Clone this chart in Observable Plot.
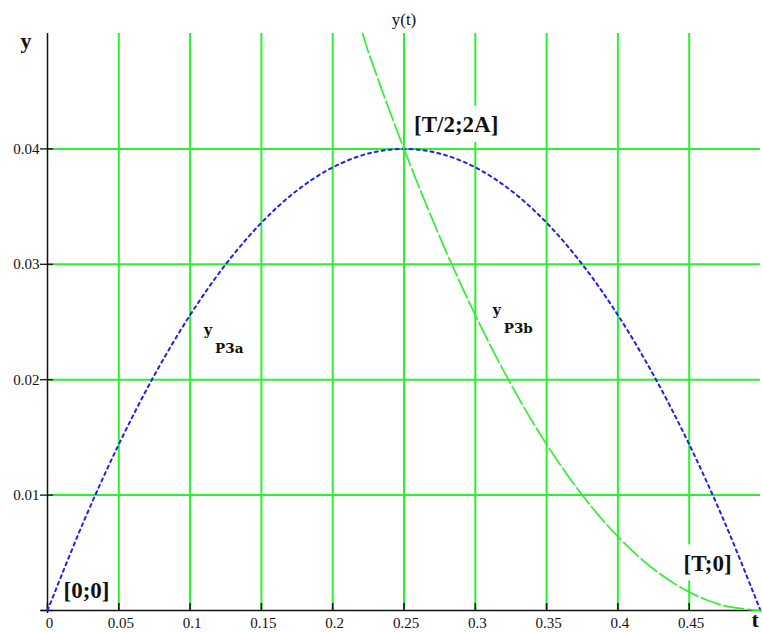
<!DOCTYPE html>
<html>
<head>
<meta charset="utf-8">
<script src="https://cdn.jsdelivr.net/npm/d3@7"></script>
<script src="https://cdn.jsdelivr.net/npm/@observablehq/plot@0.6"></script>
<style>
  body { margin: 0; background: #fff; }
  #chart svg { display: block; }
  #chart svg g[aria-label$="tick label"] { font-size: 15px; font-family: "Liberation Serif", "Times New Roman", serif; }
</style>
</head>
<body>
<div id="chart"></div>
<script>
// Displacement y(t) of the two parts of motion P3a and P3b
const tP3a = [0, 0.025, 0.05, 0.075, 0.1, 0.125, 0.15, 0.175, 0.2, 0.225, 0.25,
              0.275, 0.3, 0.325, 0.35, 0.375, 0.4, 0.425, 0.45, 0.475, 0.5];
const yP3a = [0, 0.0076, 0.0144, 0.0204, 0.0256, 0.03, 0.0336, 0.0364, 0.0384, 0.0396, 0.04,
              0.0396, 0.0384, 0.0364, 0.0336, 0.03, 0.0256, 0.0204, 0.0144, 0.0076, 0];

const tP3b = [0.221, 0.225, 0.25, 0.275, 0.3, 0.325, 0.35, 0.375, 0.4, 0.425, 0.45, 0.475, 0.5];
const yP3b = [0.05, 0.0484, 0.04, 0.0324, 0.0256, 0.0196, 0.0144, 0.01, 0.0064, 0.0036, 0.0016, 0.0004, 0];

const xTicks = [0, 0.05, 0.1, 0.15, 0.2, 0.25, 0.3, 0.35, 0.4, 0.45];
const xTickLabels = ["0", "0.05", "0.1", "0.15", "0.2", "0.25", "0.3", "0.35", "0.4", "0.45"];
const xGrid = [0.05, 0.1, 0.15, 0.2, 0.25, 0.3, 0.35, 0.4, 0.45];
const yTicks = [0, 0.01, 0.02, 0.03, 0.04];
const yTickLabels = ["", "0.01", "0.02", "0.03", "0.04"];
const yGrid = [0.01, 0.02, 0.03, 0.04];

const pointLabels = ["[0;0]", "[T/2;2A]", "[T;0]"];
const pointT = [0, 0.25, 0.5];
const pointY = [0, 0.04, 0];

const curveSubscripts = ["P3a", "P3b"];

const seriesA = tP3a.map((t, i) => ({t, y: yP3a[i]}));
const seriesB = tP3b.map((t, i) => ({t, y: yP3b[i]}));
const points = pointLabels.map((label, i) => ({label, t: pointT[i], y: pointY[i]}));

const GREEN = "#2ef02e";
const BLUE = "#2020e6";
const SERIF = "Liberation Serif, Times New Roman, serif";
const SLAB = "DejaVu Serif, serif";

const fmtX = d => xTickLabels[xTicks.indexOf(d)] ?? "";
const fmtY = d => yTickLabels[yTicks.indexOf(d)] ?? "";

const pointLabel = (i, dx, dy) => Plot.text([points[i]], {
  x: "t", y: "y", text: "label", dx, dy,
  textAnchor: "start", lineAnchor: "bottom",
  fontFamily: SERIF, fontWeight: "bold", fontSize: 23, fill: "#111"
});

const curveLabel = (series, idx, sub, dx, dy) => [
  Plot.text([series[idx]], {
    x: "t", y: "y", text: () => "y", dx, dy,
    textAnchor: "start", lineAnchor: "bottom",
    fontFamily: SLAB, fontWeight: "bold", fontSize: 14, fill: "#111"
  }),
  Plot.text([series[idx]], {
    x: "t", y: "y", text: () => sub, dx: dx + 11, dy: dy + 18,
    textAnchor: "start", lineAnchor: "bottom",
    fontFamily: SLAB, fontWeight: "bold", fontSize: 13.5, fill: "#111",
    letterSpacing: "1.2px"
  })
];

const chart = Plot.plot({
  width: 762,
  height: 632,
  marginLeft: 47,
  marginRight: 2,
  marginTop: 33,
  marginBottom: 22,
  style: {fontFamily: SERIF, fontSize: "15px", background: "#fff", color: "#111"},
  x: {domain: [0, 0.5]},
  y: {domain: [0, 0.05]},
  marks: [
    // grid
    Plot.ruleX(xGrid, {stroke: GREEN, strokeWidth: 2}),
    Plot.ruleY(yGrid, {stroke: GREEN, strokeWidth: 2}),

    // point annotations (white boxes are added behind them below)
    pointLabel(0, 16, -13),
    pointLabel(1, 10, -17),
    pointLabel(2, -77, -40),

    // axes
    Plot.ruleX([0], {stroke: "#111", strokeWidth: 1.5, insetBottom: -3}),
    Plot.ruleY([0], {stroke: "#111", strokeWidth: 1.5, insetLeft: -6}),
    Plot.axisY({ticks: yTicks, tickFormat: fmtY, tickSize: 13, dx: 6, dy: 0,
                tickPadding: 1, fontSize: 15, stroke: "#111", strokeWidth: 1.3, label: null}),
    Plot.axisX({ticks: xTicks, tickFormat: () => "", tickSize: 7, dy: -7,
                stroke: "#111", strokeWidth: 1.6, label: null}),
    Plot.axisX({ticks: xTicks, tickFormat: fmtX, tickSize: 0, tickPadding: 7, dx: 2,
                fontSize: 15, label: null}),

    // curves
    Plot.line(seriesA, {x: "t", y: "y", curve: "catmull-rom", stroke: BLUE,
                        strokeWidth: 2, strokeDasharray: "3,4"}),
    Plot.line(seriesB, {x: "t", y: "y", curve: "catmull-rom", stroke: GREEN,
                        strokeWidth: 1.7, strokeDasharray: "20,4"}),

    // curve names
    ...curveLabel(seriesA, 4, curveSubscripts[0], 14, 20),
    ...curveLabel(seriesB, 4, curveSubscripts[1], 17.5, 0),

    // title and axis names
    Plot.text(["y(t)"], {frameAnchor: "top", dy: -9, lineAnchor: "bottom",
                         fontFamily: SERIF, fontSize: 17, fill: "#111"}),
    Plot.text(["y"], {frameAnchor: "top-left", dx: -27, dy: 14, textAnchor: "start",
                      lineAnchor: "bottom", fontFamily: SERIF, fontWeight: "bold",
                      fontSize: 22, fill: "#111"}),
    Plot.text(["t"], {frameAnchor: "bottom-right", dx: -9, dy: 16, textAnchor: "start",
                      lineAnchor: "bottom", fontFamily: SERIF, fontWeight: "bold",
                      fontSize: 22, fill: "#111"})
  ]
});

document.getElementById("chart").append(chart);

// white boxes behind the point annotations, interrupting the grid
const NS = "http://www.w3.org/2000/svg";
chart.querySelectorAll("text").forEach(el => {
  if (!pointLabels.includes(el.textContent)) return;
  const b = el.getBBox();
  const r = document.createElementNS(NS, "rect");
  r.setAttribute("x", b.x - 4);
  r.setAttribute("y", b.y - 6);
  r.setAttribute("width", b.width + 8);
  r.setAttribute("height", b.height + 11);
  r.setAttribute("fill", "#fff");
  const tr = el.getAttribute("transform");
  if (tr) r.setAttribute("transform", tr);
  el.parentNode.insertBefore(r, el);
});
</script>
</body>
</html>
